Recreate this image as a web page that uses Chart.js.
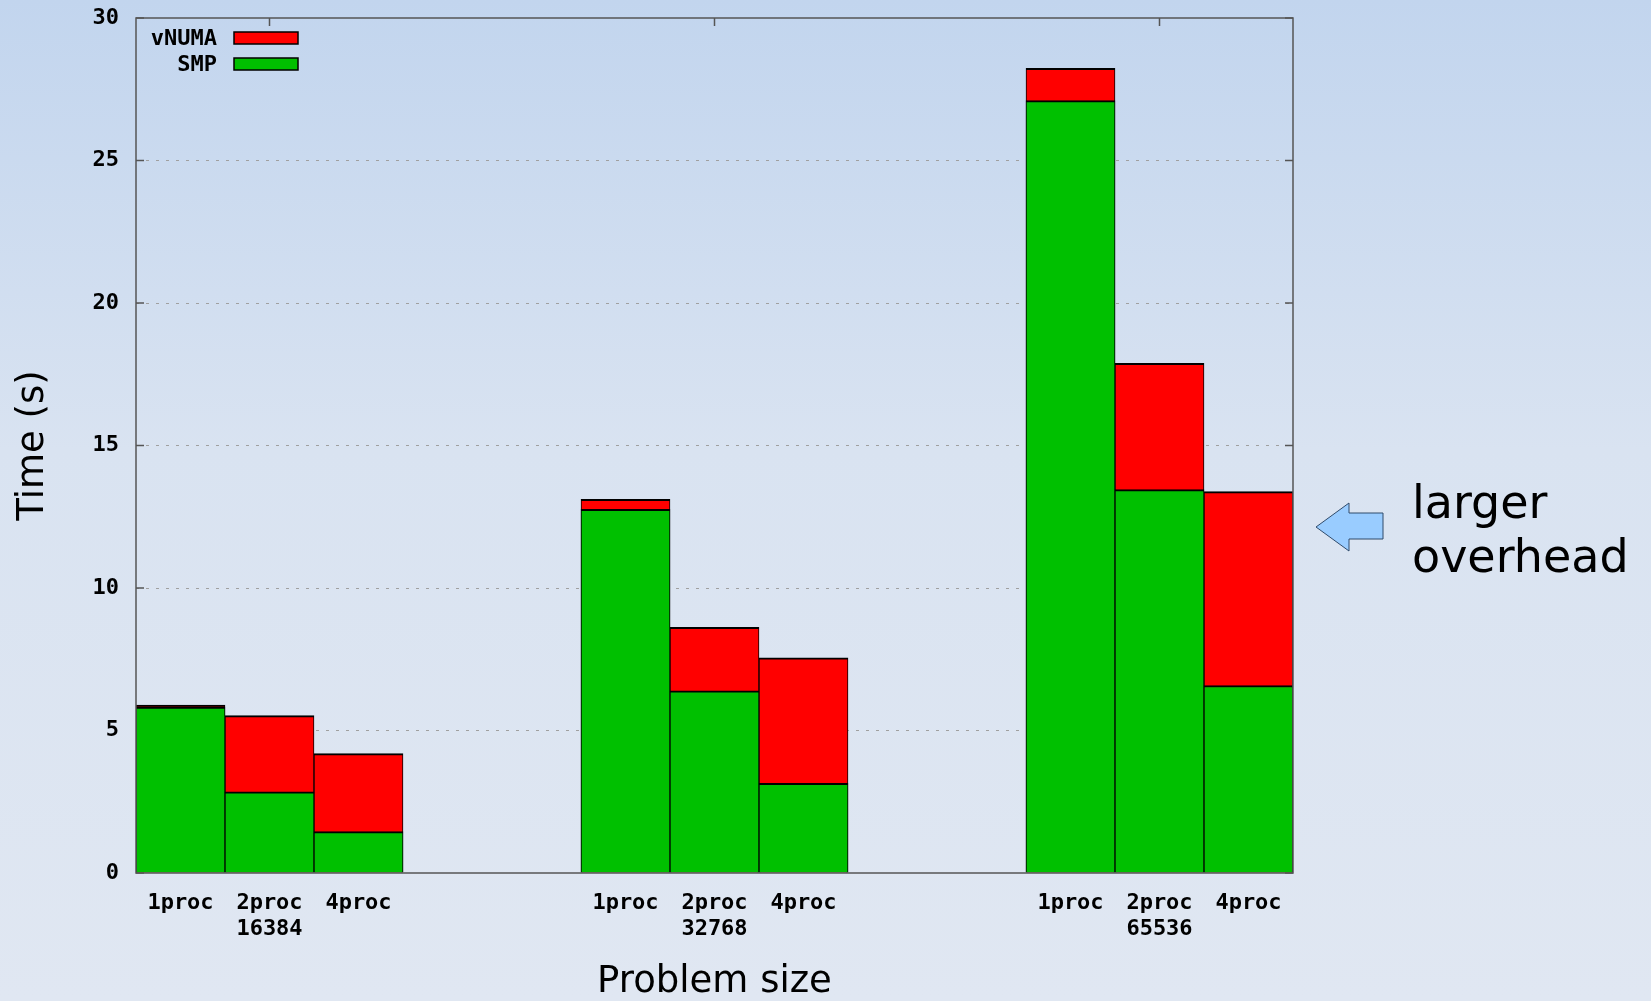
<!DOCTYPE html>
<html>
<head>
<meta charset="utf-8">
<script src="https://cdn.jsdelivr.net/npm/chart.js@4.4.1/dist/chart.umd.min.js"></script>
<style>
  html, body { margin: 0; padding: 0; }
  body {
    width: 1651px; height: 1001px; overflow: hidden;
    background: linear-gradient(to bottom, #c2d5ee 0%, #d9e3f1 45%, #e0e7f2 100%);
  }
  canvas { display: block; }
</style>
</head>
<body>
<canvas id="chart" width="1651" height="1001"></canvas>
<script>
const problemSizes = ['16384', '32768', '65536'];
const procCounts = ['1proc', '2proc', '4proc'];
// run times in seconds: one row per problem size, one column per proc count
const vnumaTimes = [
    [5.89, 5.52, 4.19],
    [13.11, 8.62, 7.55],
    [28.23, 17.88, 13.38]
];
const smpTimes = [
    [5.82, 2.85, 1.45],
    [12.76, 6.39, 3.15],
    [27.10, 13.45, 6.58]
];
const yTicks = [0, 5, 10, 15, 20, 25, 30];
const gap = 2; // empty slots between groups

// flatten the groups into one category axis with gaps
let labels = [];
let vnumaData = [];
let smpData = [];
problemSizes.forEach((size, g) => {
    if (g > 0) {
        for (let k = 0; k < gap; k++) {
            labels.push('');
            vnumaData.push(null);
            smpData.push(null);
        }
    }
    procCounts.forEach((p, i) => {
        labels.push(i === 1 ? [p, size] : p);
        vnumaData.push(vnumaTimes[g][i]);
        smpData.push(smpTimes[g][i]);
    });
});

const monoFont = { family: '"DejaVu Sans Mono", monospace', size: 22, weight: 'bold', lineHeight: 1.15 };
const sansFont = { family: '"DejaVu Sans", sans-serif', size: 37, lineHeight: 1 };
const barBorder = { top: 2, left: 1, right: 1, bottom: 0 };

const framePlugin = {
    id: 'frame',
    beforeDatasetsDraw(chart) {
        const { ctx, chartArea: a, scales } = chart;
        ctx.save();
        ctx.strokeStyle = '#555';
        ctx.lineWidth = 1.5;
        ctx.beginPath();
        scales.y.ticks.forEach(t => {
            const y = scales.y.getPixelForValue(t.value);
            ctx.moveTo(a.left, y); ctx.lineTo(a.left + 8, y);
            ctx.moveTo(a.right, y); ctx.lineTo(a.right - 8, y);
        });
        problemSizes.forEach((s, g) => {
            const x = scales.x.getPixelForValue(g * (procCounts.length + gap) + 1);
            ctx.moveTo(x, a.top); ctx.lineTo(x, a.top + 8);
        });
        ctx.stroke();
        ctx.restore();
    },
    afterDraw(chart) {
        const { ctx, chartArea: a } = chart;
        ctx.save();
        // plot border
        ctx.strokeStyle = '#555';
        ctx.lineWidth = 1.5;
        ctx.strokeRect(a.left, a.top, a.right - a.left, a.bottom - a.top);

        // key, text on the left of the swatch
        ctx.font = 'bold 22px "DejaVu Sans Mono", monospace';
        ctx.textAlign = 'right';
        ctx.textBaseline = 'middle';
        chart.data.datasets.forEach((ds, i) => {
            const y = a.top + 20 + i * 26;
            ctx.fillStyle = '#000';
            ctx.fillText(ds.label, a.left + 81, y + 1);
            ctx.fillStyle = ds.backgroundColor;
            ctx.fillRect(a.left + 98, y - 6, 64, 12);
            ctx.strokeStyle = '#000';
            ctx.lineWidth = 1.5;
            ctx.strokeRect(a.left + 98, y - 6, 64, 12);
        });

        // annotation arrow
        const tx = a.right + 23, ty = 527;
        ctx.beginPath();
        ctx.moveTo(tx, ty);
        ctx.lineTo(tx + 33, ty - 24);
        ctx.lineTo(tx + 33, ty - 14);
        ctx.lineTo(tx + 67, ty - 14);
        ctx.lineTo(tx + 67, ty + 12);
        ctx.lineTo(tx + 33, ty + 12);
        ctx.lineTo(tx + 33, ty + 24);
        ctx.closePath();
        ctx.fillStyle = '#99ccff';
        ctx.fill();
        ctx.strokeStyle = '#2f4a6a';
        ctx.lineWidth = 1;
        ctx.stroke();

        ctx.fillStyle = '#000';
        ctx.textAlign = 'left';
        ctx.textBaseline = 'alphabetic';
        ctx.font = '46px "DejaVu Sans", sans-serif';
        ctx.fillText('larger', tx + 96, 518);
        ctx.fillText('overhead', tx + 96, 572);
        ctx.restore();
    }
};

const chart = new Chart(document.getElementById('chart').getContext('2d'), {
    type: 'bar',
    data: {
        labels: labels,
        datasets: [
            {
                label: 'vNUMA',
                data: vnumaData,
                backgroundColor: '#ff0000',
                borderColor: '#000',
                borderWidth: barBorder,
                order: 2
            },
            {
                label: 'SMP',
                data: smpData,
                backgroundColor: '#00c000',
                borderColor: '#000',
                borderWidth: barBorder,
                order: 1
            }
        ]
    },
    options: {
        responsive: false,
        animation: false,
        layout: { padding: { left: 0, right: 358, top: 18, bottom: 0 } },
        datasets: {
            bar: { grouped: false, barPercentage: 1, categoryPercentage: 1 }
        },
        plugins: {
            legend: { display: false },
            tooltip: { enabled: false }
        },
        scales: {
            x: {
                offset: true,
                grid: { display: false, drawTicks: false },
                border: { display: false },
                ticks: { autoSkip: false, maxRotation: 0, minRotation: 0, padding: 18, color: '#000', font: monoFont },
                title: { display: true, text: 'Problem size', color: '#000', font: sansFont, padding: { top: 0, bottom: 0 } },
                afterFit: s => { s.height = 128; }
            },
            y: {
                min: 0,
                max: 30,
                afterBuildTicks: s => { s.ticks = yTicks.map(v => ({ value: v })); },
                ticks: { padding: 17, color: '#000', font: monoFont },
                grid: {
                    drawTicks: false,
                    lineWidth: 1,
                    color: c => (c.tick.value === 0 || c.tick.value === 30) ? 'rgba(0,0,0,0)' : '#a0a0a0'
                },
                border: { display: false, dash: [3, 7] },
                title: { display: true, text: 'Time (s)', color: '#000', font: sansFont, padding: { top: 15, bottom: 0 } },
                afterFit: s => {
                    s.width = 136;
                    s.paddingTop = 0;
                    s.paddingBottom = 0;
                }
            }
        }
    },
    plugins: [framePlugin]
});
</script>
</body>
</html>
